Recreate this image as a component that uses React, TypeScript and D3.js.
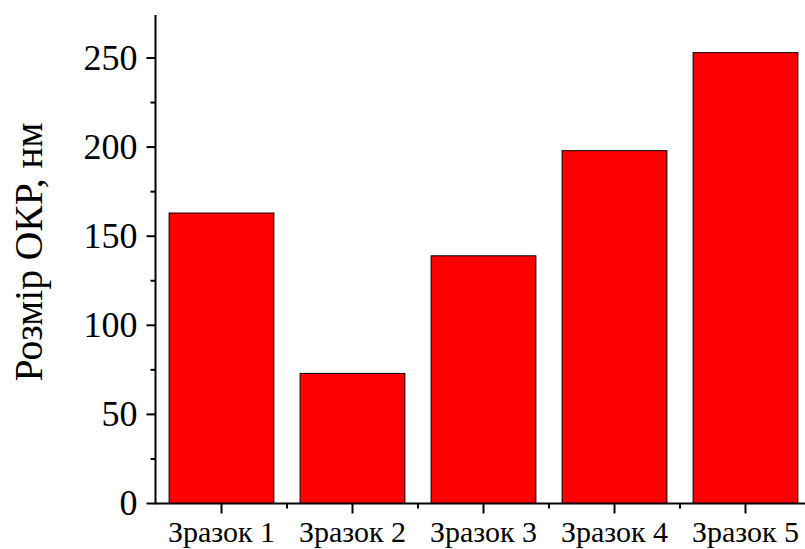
import { useRef, useEffect } from "react";
import * as d3 from "d3";

const categories = ["Зразок 1", "Зразок 2", "Зразок 3", "Зразок 4", "Зразок 5"];
const values = [163, 73, 139, 198, 253];
const yTicks = [0, 50, 100, 150, 200, 250];
const yMinorTicks = [25, 75, 125, 175, 225, 275];

const WIDTH = 805;
const HEIGHT = 549;
const AXIS_X = 155.5;
const AXIS_Y = 503.5;
const FONT = "'Liberation Serif', 'Times New Roman', serif";

export default function App() {
  const svgRef = useRef<SVGSVGElement>(null);

  useEffect(() => {
    if (!svgRef.current) return;
    const svg = d3.select(svgRef.current);
    svg.selectAll("*").remove();

    const x = d3.scaleBand<string>().domain(categories).range([156, 156 + 131 * 5]).paddingInner(0.2).paddingOuter(0.1);
    const y = d3.scaleLinear().domain([0, 250]).range([AXIS_Y, 58]);

    // bars
    svg.append("g")
      .selectAll("rect")
      .data(values)
      .join("rect")
      .attr("x", (_, i) => x(categories[i])!)
      .attr("y", (d) => y(d))
      .attr("width", x.bandwidth())
      .attr("height", (d) => AXIS_Y - y(d))
      .attr("fill", "#ff0000")
      .attr("stroke", "#000")
      .attr("stroke-width", 1);

    // y axis
    const gy = svg.append("g").attr("transform", `translate(${AXIS_X},0)`);
    gy.append("line").attr("y1", 15).attr("y2", AXIS_Y).attr("stroke", "#000").attr("stroke-width", 2);
    gy.selectAll(".maj")
      .data(yTicks)
      .join("line")
      .attr("x1", -9).attr("x2", 0)
      .attr("y1", (d) => y(d)).attr("y2", (d) => y(d))
      .attr("stroke", "#000").attr("stroke-width", 2);
    gy.selectAll(".min")
      .data(yMinorTicks.filter((d) => y(d) > 15))
      .join("line")
      .attr("x1", -5).attr("x2", 0)
      .attr("y1", (d) => y(d)).attr("y2", (d) => y(d))
      .attr("stroke", "#000").attr("stroke-width", 2);
    gy.selectAll("text")
      .data(yTicks)
      .join("text")
      .attr("x", -18)
      .attr("y", (d) => y(d))
      .attr("dy", "0.33em")
      .attr("text-anchor", "end")
      .attr("font-family", FONT)
      .attr("font-size", 36)
      .text((d) => d);

    // x axis
    const gx = svg.append("g").attr("transform", `translate(0,${AXIS_Y})`);
    gx.append("line").attr("x1", AXIS_X - 1).attr("x2", WIDTH).attr("stroke", "#000").attr("stroke-width", 2);
    gx.selectAll(".maj")
      .data(categories)
      .join("line")
      .attr("x1", (d) => x(d)! + x.bandwidth() / 2)
      .attr("x2", (d) => x(d)! + x.bandwidth() / 2)
      .attr("y1", 0).attr("y2", 10)
      .attr("stroke", "#000").attr("stroke-width", 2);
    gx.selectAll(".min")
      .data(categories.slice(1))
      .join("line")
      .attr("x1", (d) => x(d)! - x.step() * 0.1)
      .attr("x2", (d) => x(d)! - x.step() * 0.1)
      .attr("y1", 0).attr("y2", 5)
      .attr("stroke", "#000").attr("stroke-width", 2);
    gx.selectAll("text")
      .data(categories)
      .join("text")
      .attr("x", (d) => x(d)! + x.bandwidth() / 2)
      .attr("y", 38)
      .attr("text-anchor", "middle")
      .attr("font-family", FONT)
      .attr("font-size", 30)
      .text((d) => d);

    // y label
    svg.append("text")
      .attr("transform", `translate(42,252) rotate(-90)`)
      .attr("text-anchor", "middle")
      .attr("font-family", FONT)
      .attr("font-size", 39.5)
      .text("Розмір ОКР, нм");
  }, []);

  return (
    <svg
      ref={svgRef}
      width={WIDTH}
      height={HEIGHT}
      viewBox={`0 0 ${WIDTH} ${HEIGHT}`}
      style={{ position: "absolute", left: 0, top: 0, background: "#fff" }}
    />
  );
}
